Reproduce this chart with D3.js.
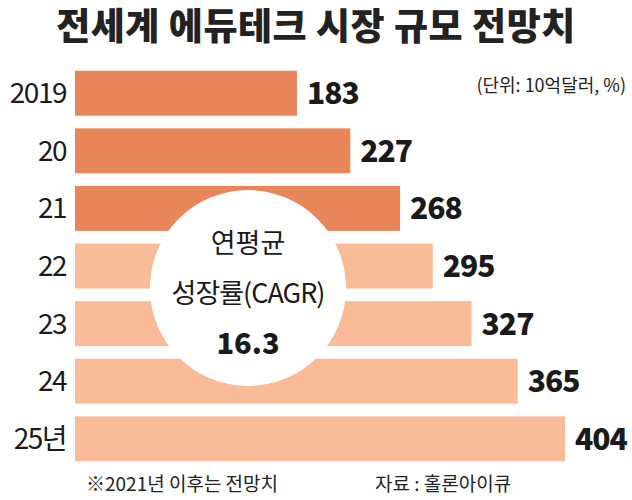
<!DOCTYPE html><html><head><meta charset="utf-8">
<script src="https://cdn.jsdelivr.net/npm/d3@7/dist/d3.min.js"></script>
<style>body{margin:0;background:#fff}text{font-family:"Noto Sans CJK KR","Noto Sans",sans-serif}</style></head><body>
<svg id="c" width="632" height="500"></svg>
<script>
const categories=["2019","20","21","22","23","24","25년"];
const values=[183,227,268,295,327,365,404];
const forecast=[false,false,false,true,true,true,true];
const svg=d3.select("#c");
const x=d3.scaleLinear().domain([0,404]).range([75,565]);
const y=d3.scaleBand().domain(categories).range([65,467]).paddingInner(0.22).paddingOuter(0.1);
svg.append("text").attr("x",316).attr("y",40).attr("text-anchor","middle").attr("font-size",37).attr("font-weight",900).attr("fill","#222").attr("letter-spacing",0.5).text("전세계 에듀테크 시장 규모 전망치");
svg.append("text").attr("x",626).attr("y",92).attr("text-anchor","end").attr("font-size",18).attr("fill","#222").text("(단위: 10억달러, %)");
svg.selectAll("rect.b").data(values).join("rect").attr("class","b")
 .attr("x",x(0)).attr("y",(d,i)=>y(categories[i])).attr("height",y.bandwidth())
 .attr("width",d=>x(d)-x(0)).attr("fill",(d,i)=>forecast[i]?"#f9bb98":"#e8865a");
svg.selectAll("text.v").data(values).join("text").attr("class","v")
 .attr("x",d=>x(d)+10).attr("y",(d,i)=>y(categories[i])+y.bandwidth()/2+11)
 .attr("font-size",30).attr("font-weight",800).attr("fill","#1a1a1a").attr("font-family","Roboto, sans-serif").attr("letter-spacing",-1).text(d=>d);
svg.selectAll("text.c").data(categories).join("text").attr("class","c")
 .attr("x",66).attr("y",d=>y(d)+y.bandwidth()/2+10).attr("text-anchor","end")
 .attr("font-size",28).attr("fill","#1a1a1a").attr("letter-spacing",-1.5).text(d=>d);
svg.append("circle").attr("cx",248).attr("cy",288).attr("r",98).attr("fill","#fff");
svg.append("text").attr("x",248).attr("y",253).attr("text-anchor","middle").attr("font-size",27).attr("fill","#1a1a1a").text("연평균");
svg.append("text").attr("x",248).attr("y",303).attr("text-anchor","middle").attr("font-size",27).attr("fill","#1a1a1a").attr("letter-spacing",-1).text("성장률(CAGR)");
svg.append("text").attr("x",248).attr("y",354).attr("text-anchor","middle").attr("font-size",29).attr("font-weight",800).attr("fill","#1a1a1a").text("16.3");
svg.append("text").attr("x",86).attr("y",491).attr("font-size",19).attr("fill","#222").text("※2021년 이후는 전망치");
svg.append("text").attr("x",375).attr("y",491).attr("font-size",19).attr("fill","#222").text("자료 : 홀론아이큐");
</script></body></html>
